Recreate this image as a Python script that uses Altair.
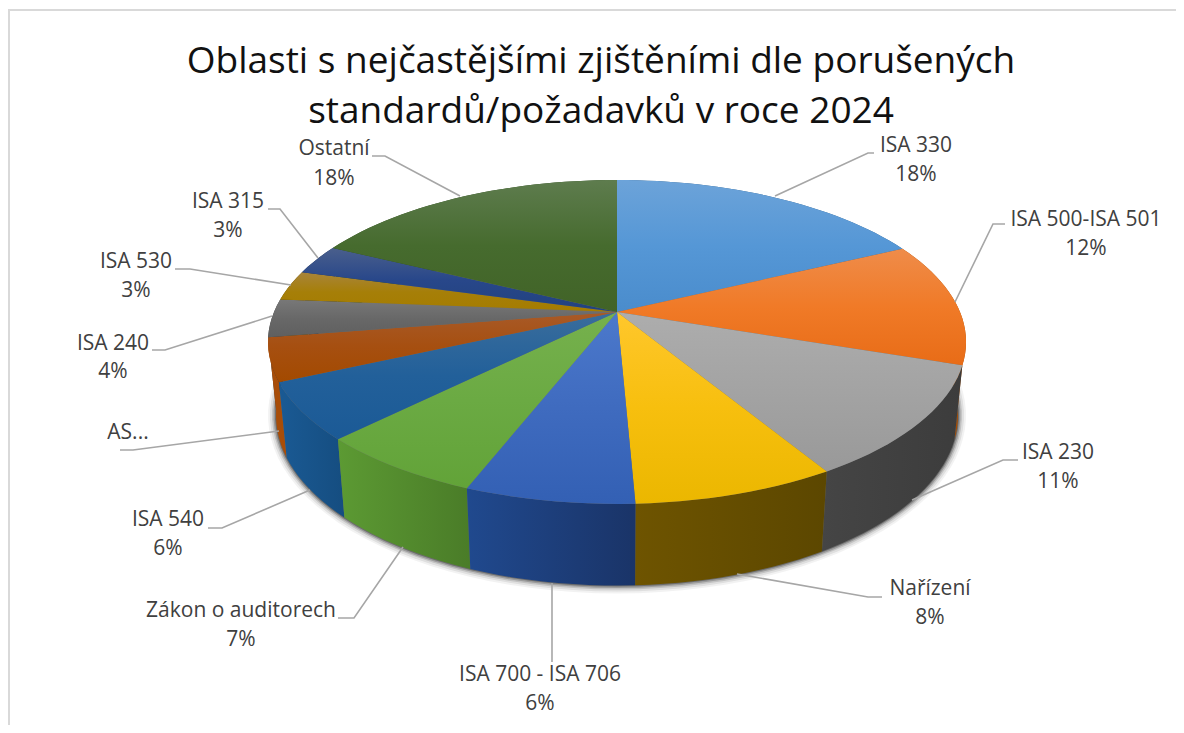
import math
import altair as alt
import pandas as pd

title_lines = ["Oblasti s nejčastějšími zjištěními dle porušených",
               "standardů/požadavků v roce 2024"]
names = ["ISA 330", "ISA 500-ISA 501", "ISA 230", "Nařízení", "ISA 700 - ISA 706",
         "Zákon o auditorech", "ISA 540", "AS...", "ISA 240", "ISA 530", "ISA 315", "Ostatní"]
pct_labels = ["18%", "12%", "11%", "8%", "6%", "7%", "6%", "", "4%", "3%", "3%", "18%"]
shares = [17.8, 12.4, 11.2, 7.9, 6.6, 6.6, 5.7, 4.3, 3.8, 3.0, 3.0, 17.7]

top_light = ["#6CA3D9", "#EF8C4A", "#ADADAD", "#FFC72C", "#4C79CC", "#76B14D",
             "#3A6D9C", "#A85A28", "#787878", "#A8843A", "#4A5F8C", "#5E7C4E"]
top_mid = ["#5597D6", "#F07A27", "#A3A3A3", "#F7BF0E", "#3F6BBF", "#6BAA43",
           "#22609A", "#A64F10", "#686868", "#A67F08", "#28478A", "#466B2E"]
top_dark = ["#4A8CCC", "#E86C17", "#999999", "#EBB700", "#3360B4", "#62A338",
            "#1B5A96", "#A34A00", "#5F5F5F", "#A57C00", "#21427F", "#416327"]
wall_left = ["#2E5F8A", "#A34A00", "#454545", "#6E5400", "#20498E", "#5C9A33",
             "#1A5A94", "#A84D08", "#3A3A3A", "#5A4500", "#1A2E50", "#2D4A1E"]
wall_right = ["#2E5F8A", "#A34A00", "#3C3C3C", "#5C4700", "#1A3468", "#4A7C28",
              "#154D80", "#A84D08", "#3A3A3A", "#5A4500", "#1A2E50", "#2D4A1E"]

# leader lines: label end -> rim, in page pixels
leaders = [
    [(775, 196), (868, 153), (874, 153)],
    [(955, 302), (993, 224), (1005, 224)],
    [(912, 500), (1003, 460), (1018, 460)],
    [(737, 574), (868, 597), (882, 597)],
    [(552, 583), (552, 662)],
    [(403, 547), (354, 618), (338, 618)],
    [(310, 490), (222, 528), (208, 528)],
    [(279, 431), (133, 450), (120, 450)],
    [(272, 316), (165, 350), (152, 350)],
    [(291, 285), (190, 269), (175, 269)],
    [(318, 258), (280, 209), (268, 209)],
    [(460, 196), (385, 156), (372, 156)],
]
label_pos = [(916, 146, 175), (1086, 220, 249), (1058, 453, 482), (930, 589, 618),
             (540, 675, 704), (241, 611, 640), (168, 520, 549), (128, 433, None),
             (113, 344, 372), (136, 262, 291), (228, 202, 231), (334, 149, 179)]

CX, APEX_Y, A, B, K = 617.0, 312.0, 343.0, 156.4, 0.185
PAGE = 8
W, H = 1168, 717


def top_pt(deg):
    t = math.radians(deg)
    X, Y = math.sin(t), math.cos(t)
    d = 1 + K * Y
    return (CX + A * X / d, APEX_Y - B * Y / d)


def bottom_pt(deg, grow=0.0):
    x, y = top_pt(deg)
    off = y - APEX_Y
    sx = 0.977 + grow / 349.0
    sy = 1.0 + grow / 162.0
    return (CX + sx * (x - CX), y + 72 + 0.05 * off + (sy - 1) * (off - 30))


def feature(points):
    ring = [[p[0] - PAGE, p[1] - PAGE] for p in points]
    ring.append(ring[0])
    return {"type": "Feature", "properties": {}, "geometry": {"type": "Polygon", "coordinates": [ring]}}


projection = alt.Projection(type="identity", scale=1, translate=[0, 0])


def gradient(colors, horizontal):
    stops = [alt.GradientStop(color=c, offset=j / (len(colors) - 1)) for j, c in enumerate(colors)]
    return alt.Gradient(
        gradient="linear", stops=stops,
        x1=0, y1=0, x2=1 if horizontal else 0, y2=0 if horizontal else 1,
    )


def shape(points, **mark):
    return alt.Chart(alt.Data(values=[feature(points)])).mark_geoshape(
        strokeWidth=0, **mark).project(**projection.to_dict())


layers = []

# soft shadow under the base
circle = [i * 3 for i in range(120)]
for grow, op in [(8, 0.05), (6, 0.08), (4, 0.13), (2.5, 0.2), (1, 0.3)]:
    layers.append(shape([bottom_pt(d, grow) for d in circle], fill="#000000", fillOpacity=op))

bounds = [0.0]
for s in shares:
    bounds.append(bounds[-1] + s)
total = bounds[-1]
spans = [(bounds[i] / total * 360, bounds[i + 1] / total * 360) for i in range(len(shares))]

# walls: back ones first, so that the front ones cover them
order = sorted(range(len(spans)), key=lambda i: -abs((spans[i][0] + spans[i][1]) / 2 - 180))
for i in order:
    a0, a1 = spans[i]
    n = max(4, int((a1 - a0) / 2))
    ds = [a0 + (a1 - a0) * j / n for j in range(n + 1)]
    pts = [top_pt(d) for d in ds] + [bottom_pt(d) for d in reversed(ds)]
    layers.append(shape(pts, fill=gradient([wall_left[i], wall_right[i]], True)))

for i, (a0, a1) in enumerate(spans):
    n = max(4, int((a1 - a0) / 2))
    ds = [a0 + (a1 - a0) * j / n for j in range(n + 1)]
    pts = [(CX, APEX_Y)] + [top_pt(d) for d in ds]
    layers.append(shape(pts, fill=gradient([top_light[i], top_mid[i], top_dark[i]], False)))

leader_rows = []
for i, pts in enumerate(leaders):
    for j, (x, y) in enumerate(pts):
        leader_rows.append({"k": names[i], "o": j, "x": x - PAGE, "y": y - PAGE})
layers.append(
    alt.Chart(pd.DataFrame(leader_rows)).mark_line(color="#A6A6A6", strokeWidth=1.6).encode(
        x=alt.X("x:Q", scale=None, axis=None),
        y=alt.Y("y:Q", scale=None, axis=None),
        detail="k:N",
        order="o:Q",
    )
)

text_rows = []
for name, pct, (x, y1, y2) in zip(names, pct_labels, label_pos):
    text_rows.append({"t": name, "x": x - PAGE, "y": y1 - PAGE})
    if y2 is not None:
        text_rows.append({"t": pct, "x": x - PAGE, "y": y2 - PAGE})
layers.append(
    alt.Chart(pd.DataFrame(text_rows)).mark_text(
        font="Open Sans", fontSize=21, color="#404040", align="center", baseline="middle"
    ).encode(
        x=alt.X("x:Q", scale=None, axis=None),
        y=alt.Y("y:Q", scale=None, axis=None),
        text="t:N",
    )
)

# frame of the chart area (top and left edges)
layers.append(alt.Chart(pd.DataFrame({"a": [0]})).mark_rule(color="#D9D9D9", strokeWidth=2).encode(
    x=alt.value(1), y=alt.value(1), y2=alt.value(H)))
layers.append(alt.Chart(pd.DataFrame({"a": [0]})).mark_rule(color="#D9D9D9", strokeWidth=2).encode(
    x=alt.value(0), x2=alt.value(W), y=alt.value(2)))

chart = alt.layer(*layers).properties(
    width=W, height=H,
    padding=0,
    autosize=alt.AutoSizeParams(type="none"),
    background="white",
    title=alt.TitleParams(
        text=title_lines, font="Open Sans", fontSize=37, fontWeight="normal", color="#111111",
        anchor="middle", lineHeight=50, orient="top", offset=-123, dx=-(W / 2 - (601 - PAGE)),
    ),
).configure_view(stroke=None)

chart.save("out.html", embed_options={"renderer": "svg", "actions": False})
